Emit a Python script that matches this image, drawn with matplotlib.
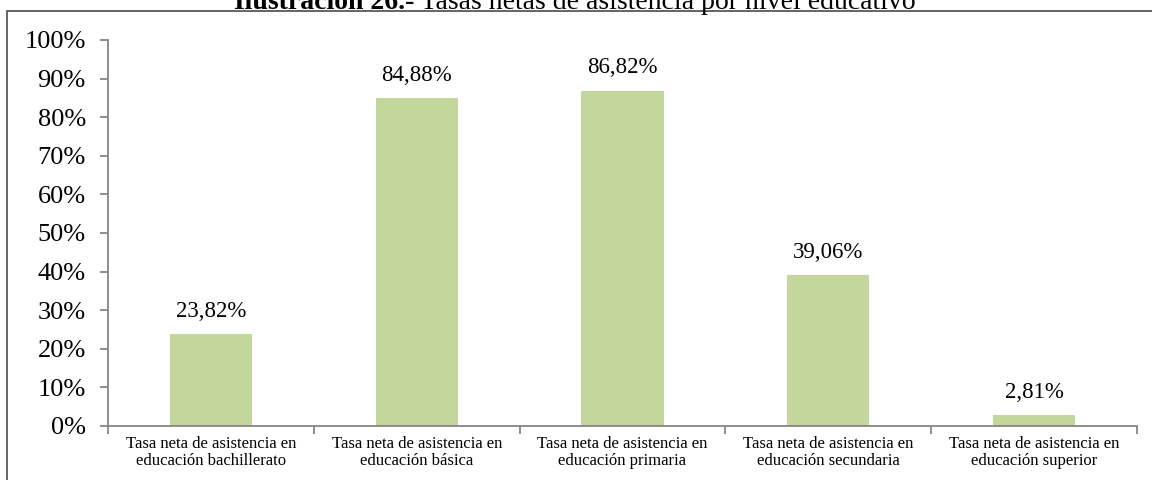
import matplotlib
matplotlib.use("Agg")
import matplotlib.pyplot as plt
from matplotlib.patches import Rectangle

categories = [
    "Tasa neta de asistencia en\neducación bachillerato",
    "Tasa neta de asistencia en\neducación básica",
    "Tasa neta de asistencia en\neducación primaria",
    "Tasa neta de asistencia en\neducación secundaria",
    "Tasa neta de asistencia en\neducación superior",
]
values = [23.82, 84.88, 86.82, 39.06, 2.81]
labels = ["23,82%", "84,88%", "86,82%", "39,06%", "2,81%"]
yticks = [0, 10, 20, 30, 40, 50, 60, 70, 80, 90, 100]
ytick_labels = [f"{v}%" for v in yticks]

plt.rcParams['font.family'] = ['Liberation Serif', 'DejaVu Serif']

fig = plt.figure(figsize=(11.52, 4.8), dpi=100)
ax = fig.add_axes([108/1152, 1-426/480, (1137-108)/1152, (426-40)/480])

axis_col = '#868686'
x = list(range(len(values)))
ax.bar(x, values, width=0.4, color='#C3D69B')
for xi, v, lab in zip(x, values, labels):
    ax.annotate(lab, (xi, v), xytext=(0, 9), textcoords='offset points',
                ha='center', va='bottom', fontsize=16.5, color='#000000')

ax.set_xlim(-0.5, len(values) - 0.5)
ax.set_ylim(0, 100)
ax.set_yticks(yticks)
ax.set_yticklabels(ytick_labels, fontsize=19)
ax.set_xticks(x)
ax.set_xticklabels(categories, fontsize=12, linespacing=1.12)
ax.set_xticks([i - 0.5 for i in range(len(values) + 1)], minor=True)
ax.tick_params(axis='x', which='major', length=0, pad=7)
ax.tick_params(axis='x', which='minor', length=6, width=1.3, color=axis_col, direction='out')
ax.tick_params(axis='y', length=6, width=1.3, color=axis_col, direction='out', pad=10)

for s in ['top', 'right']:
    ax.spines[s].set_visible(False)
for s in ['left', 'bottom']:
    ax.spines[s].set_color(axis_col)
    ax.spines[s].set_linewidth(1.3)

# outer border
border = Rectangle((7/1152, -0.05), 1.1, (1 - 11/480) + 0.05, transform=fig.transFigure,
                   fill=False, edgecolor='#4a4a4a', linewidth=1.2, clip_on=False)
fig.patches.append(border)

# title (clipped at top, as in the reference)
fig.canvas.draw()
r = fig.canvas.get_renderer()
t1 = fig.text(0, 1 - 9/480, "Ilustración 26.-", fontsize=20, fontweight='bold', va='baseline', ha='left')
t2 = fig.text(0, 1 - 9/480, " Tasas netas de asistencia por nivel educativo", fontsize=20, va='baseline', ha='left')
w1 = t1.get_window_extent(r).width
w2 = t2.get_window_extent(r).width
total = w1 + w2
x0 = 575 - total / 2
t1.set_x(x0 / 1152)
t2.set_x((x0 + w1) / 1152)

fig.savefig("out.png", dpi=100)
